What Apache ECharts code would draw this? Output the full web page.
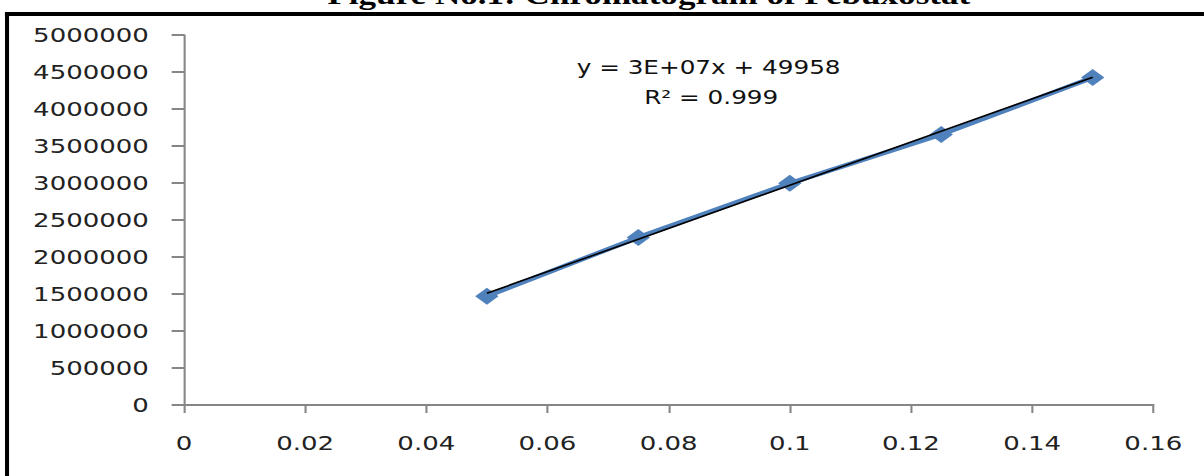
<!DOCTYPE html>
<html>
<head>
<meta charset="utf-8">
<script src="https://cdn.jsdelivr.net/npm/echarts@6/dist/echarts.min.js"></script>
<style>
  html, body { margin: 0; padding: 0; background: #fff; overflow: hidden; }
  #main { width: 926px; height: 476px; transform: scaleX(1.3002); transform-origin: 0 0; }
</style>
</head>
<body>
<div id="main"></div>
<script>
// Data
const concentrations = [0.05, 0.075, 0.1, 0.125, 0.15];
const peakAreas = [1470000, 2265000, 2995000, 3655000, 4425000];
const trendX = [0.05, 0.15];
const trendY = [1510000, 4430000];
const xTicks = { min: 0, max: 0.16, interval: 0.02 };
const yTicks = { min: 0, max: 5000000, interval: 500000 };
const titleText = 'Figure No.1: Chromatogram of Febuxostat';
const equationText = 'y = 3E+07x + 49958';
const r2Text = 'R\u00b2 = 0.999';

const chart = echarts.init(document.getElementById('main'), null, { renderer: 'svg' });
const axisGray = '#868686';
const labelFont = 'DejaVu Sans';

chart.setOption({
  animation: false,
  backgroundColor: '#ffffff',
  grid: { left: 141.5, right: 39, top: 35, bottom: 71, containLabel: false, outerBoundsMode: 'none' },
  xAxis: {
    type: 'value',
    min: xTicks.min, max: xTicks.max, interval: xTicks.interval,
    axisLine: { show: true, onZero: false, lineStyle: { color: axisGray, width: 2 } },
    axisTick: { show: true, inside: false, length: 8, lineStyle: { color: axisGray, width: 1.6 } },
    splitLine: { show: false },
    axisLabel: { margin: 28, color: '#222', fontFamily: labelFont, fontSize: 20 }
  },
  yAxis: {
    type: 'value',
    min: yTicks.min, max: yTicks.max, interval: yTicks.interval,
    axisLine: { show: true, onZero: false, lineStyle: { color: axisGray, width: 1.6 } },
    axisTick: { show: true, inside: false, length: 9.5, lineStyle: { color: axisGray, width: 2 } },
    splitLine: { show: false },
    axisLabel: { margin: 27, color: '#222', fontFamily: labelFont, fontSize: 20, formatter: v => String(v) }
  },
  series: [
    {
      type: 'line',
      data: concentrations.map((x, i) => [x, peakAreas[i]]),
      symbol: 'diamond',
      symbolSize: [18, 17],
      lineStyle: { color: '#4F81BD', width: 4.5 },
      itemStyle: { color: '#4F81BD' },
      z: 2
    },
    {
      type: 'line',
      data: trendX.map((x, i) => [x, trendY[i]]),
      symbol: 'none',
      lineStyle: { color: '#000000', width: 1.6 },
      z: 3
    }
  ],
  graphic: [
    { type: 'line', shape: { x1: 3.8, y1: 14, x2: 926, y2: 14 }, style: { stroke: '#000', lineWidth: 4 } },
    { type: 'line', shape: { x1: 5.4, y1: 12, x2: 5.4, y2: 476 }, style: { stroke: '#000', lineWidth: 3.1 } },
    { type: 'text', x: 499, y: 8, style: { text: titleText, font: 'bold 27px "Liberation Serif"', fill: '#000', align: 'center', verticalAlign: 'bottom' }, z: 10 },
    { type: 'text', x: 545, y: 68, style: { text: equationText, font: '19px "DejaVu Sans"', fill: '#111', align: 'center', verticalAlign: 'middle' } },
    { type: 'text', x: 547, y: 98, style: { text: r2Text, font: '19px "DejaVu Sans"', fill: '#111', align: 'center', verticalAlign: 'middle' } }
  ]
});
</script>
</body>
</html>
